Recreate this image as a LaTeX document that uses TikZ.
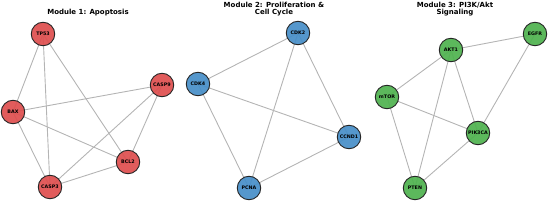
\documentclass[tikz,border=0pt]{standalone}
\usepackage{fontspec}
\setmainfont{DejaVu Sans}
\usetikzlibrary{backgrounds}
\definecolor{nred}{RGB}{222,78,78}
\definecolor{nblue}{RGB}{70,142,200}
\definecolor{ngreen}{RGB}{78,178,78}
\definecolor{edgegray}{RGB}{180,180,180}
\begin{document}
\begin{tikzpicture}[x=1pt,y=-1pt,
  gene/.style={circle,draw=black!85,line width=0.9pt,minimum size=23.5pt,inner sep=0pt,fill opacity=0.92,text opacity=1,font=\fontsize{4.8}{5}\selectfont\bfseries},
  redn/.style={gene,fill=nred},
  bluen/.style={gene,fill=nblue},
  greenn/.style={gene,fill=ngreen},
  link/.style={draw=edgegray,line width=0.9pt},
  ttl/.style={font=\fontsize{7}{8}\selectfont\bfseries,align=center,anchor=base}]
\useasboundingbox (0,0) rectangle (550,203);
% titles
\node[ttl] (t1) at (88,15) {Module 1: Apoptosis};
\node[ttl] (t2a) at (274,7.5) {Module 2: Proliferation \&};
\node[ttl] (t2b) at (274,15) {Cell Cycle};
\node[ttl] (t3a) at (455,7.5) {Module 3: PI3K/Akt};
\node[ttl] (t3b) at (455,15) {Signaling};
% module 1 nodes
\node[redn] (TP53) at (43,34) {TP53};
\node[redn] (CASP9) at (162,85) {CASP9};
\node[redn] (BAX) at (13,112) {BAX};
\node[redn] (BCL2) at (128,162) {BCL2};
\node[redn] (CASP3) at (50,187) {CASP3};
% module 2 nodes
\node[bluen] (CDK2) at (298,33) {CDK2};
\node[bluen] (CDK4) at (198,84) {CDK4};
\node[bluen] (CCND1) at (349,137) {CCND1};
\node[bluen] (PCNA) at (249,188) {PCNA};
% module 3 nodes
\node[greenn] (EGFR) at (535,34) {EGFR};
\node[greenn] (AKT1) at (451,50) {AKT1};
\node[greenn] (mTOR) at (387,97) {mTOR};
\node[greenn] (PIK3CA) at (478,133) {PIK3CA};
\node[greenn] (PTEN) at (415,188) {PTEN};
% edges (behind the nodes, centre to centre)
\begin{scope}[on background layer]
\foreach \a/\b in {TP53/BAX,TP53/CASP3,TP53/BCL2,BAX/CASP9,BAX/BCL2,BAX/CASP3,CASP9/CASP3,CASP9/BCL2,BCL2/CASP3,
  CDK2/CDK4,CDK2/PCNA,CDK2/CCND1,CDK4/CCND1,CDK4/PCNA,PCNA/CCND1,
  EGFR/AKT1,EGFR/PIK3CA,AKT1/mTOR,AKT1/PIK3CA,AKT1/PTEN,mTOR/PIK3CA,mTOR/PTEN,PIK3CA/PTEN}
  \draw[link] (\a.center) -- (\b.center);
\end{scope}
\end{tikzpicture}
\end{document}
